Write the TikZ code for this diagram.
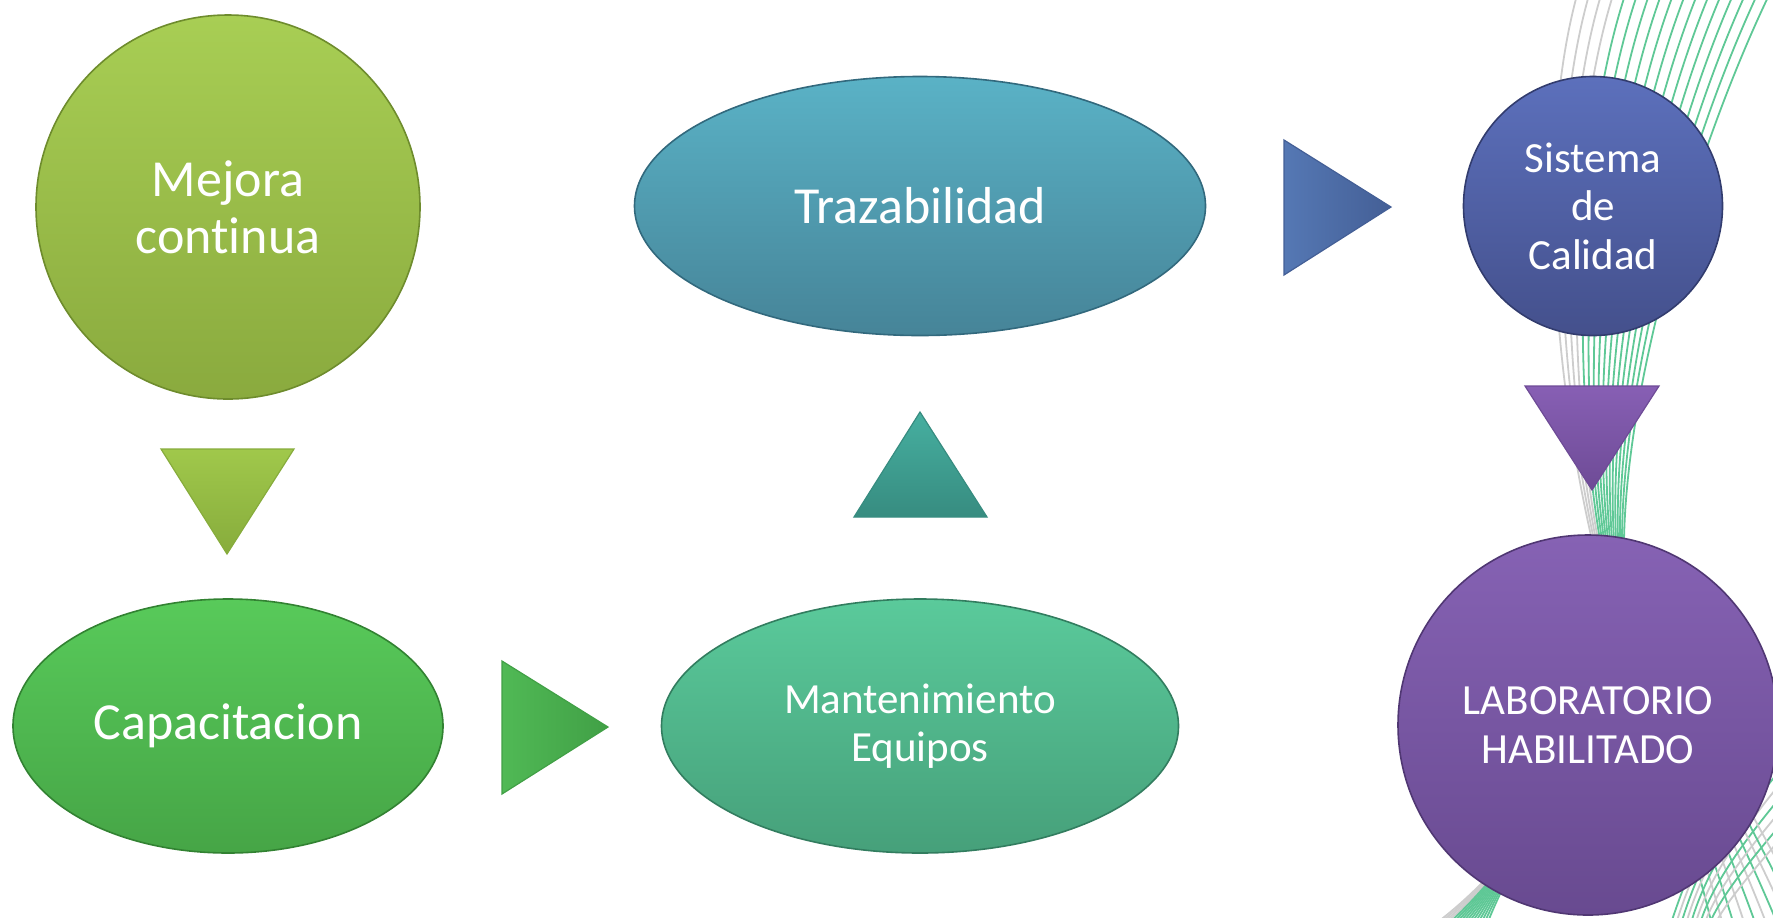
\documentclass[tikz,border=0pt]{standalone}
\usepackage{fontspec}
\setmainfont{Carlito}[Ligatures=NoCommon]
\usetikzlibrary{shapes.geometric}
\definecolor{lgray}{RGB}{205,205,205}
\definecolor{lgreen}{RGB}{95,200,150}
\definecolor{mejT}{RGB}{168,206,84}
\definecolor{mejB}{RGB}{138,170,62}
\definecolor{mejD}{RGB}{110,140,45}
\definecolor{capT}{RGB}{88,202,90}
\definecolor{capB}{RGB}{70,165,70}
\definecolor{capD}{RGB}{50,130,50}
\definecolor{manT}{RGB}{90,202,155}
\definecolor{manB}{RGB}{70,160,122}
\definecolor{manD}{RGB}{50,125,95}
\definecolor{traT}{RGB}{90,178,198}
\definecolor{traB}{RGB}{70,132,152}
\definecolor{traD}{RGB}{50,105,125}
\definecolor{sisT}{RGB}{92,112,188}
\definecolor{sisB}{RGB}{68,80,140}
\definecolor{sisD}{RGB}{50,60,110}
\definecolor{labT}{RGB}{134,98,180}
\definecolor{labB}{RGB}{104,74,144}
\definecolor{labD}{RGB}{80,55,115}
\definecolor{triA}{RGB}{160,200,75}
\definecolor{triAb}{RGB}{135,172,60}
\definecolor{triB}{RGB}{80,185,85}
\definecolor{triBb}{RGB}{65,160,70}
\definecolor{triC}{RGB}{70,175,160}
\definecolor{triCb}{RGB}{55,140,128}
\definecolor{triD}{RGB}{85,120,180}
\definecolor{triDb}{RGB}{68,95,150}
\definecolor{triE}{RGB}{135,95,180}
\definecolor{triEb}{RGB}{110,75,150}
\begin{document}
\begin{tikzpicture}[x=0.5pt,y=-0.5pt,
  bub/.style={inner sep=0pt, align=center, text=white, line width=0.8pt},
  big/.style={font=\fontsize{26}{28.6}\selectfont},
  small/.style={font=\fontsize{21.5}{24.3}\selectfont},
  tri/.style={line width=0.6pt}]
\useasboundingbox (0,0) rectangle (1773,917);
% decorative background lines
\begin{scope}
\clip (0,0) rectangle (1773,917);
\foreach \i in {0,...,16}{
  \ifnum\i<4 \def\lc{lgray}\else\def\lc{lgreen}\fi
  \draw[\lc, line width=0.9pt]
    ({1577+12*\i},-5) .. controls ({1535+10*\i},150) and ({1555+4.5*\i},380) .. ({1592+2*\i},540)
    .. controls ({1615+2*\i},680) and ({1560-4*\i},860) .. ({1380+6*\i},960);
}
\foreach \i in {0,...,9}{
  \ifodd\i \def\lc{lgray}\else\def\lc{lgreen}\fi
  \draw[\lc, line width=0.9pt]
    ({1600+3*\i},540) .. controls ({1640+4*\i},700) and ({1690+8*\i},820) .. ({1720+12*\i},960);
  \draw[\lc, line width=0.9pt]
    (1800,{690+14*\i}) .. controls ({1740},{760+14*\i}) and ({1690},{850+10*\i}) .. ({1660+6*\i},960);
}
\end{scope}
% nodes
\node[bub, big, circle, minimum size=192pt, top color=mejT, bottom color=mejB, draw=mejD] (mejora) at (228,207) {Mejora\\continua};
\node[bub, big, ellipse, minimum width=215pt, minimum height=127pt, top color=capT, bottom color=capB, draw=capD] (capa) at (228,726) {Capacitacion};
\node[bub, small, ellipse, minimum width=258.5pt, minimum height=127pt, top color=manT, bottom color=manB, draw=manD] (mant) at (920,726) {Mantenimiento\\Equipos};
\node[bub, big, ellipse, minimum width=285.5pt, minimum height=129.5pt, top color=traT, bottom color=traB, draw=traD] (traz) at (920,206) {Trazabilidad};
\node[bub, small, circle, minimum size=129.5pt, top color=sisT, bottom color=sisB, draw=sisD] (sis) at (1593,206) {Sistema\\de\\Calidad};
\node[bub, small, circle, minimum size=190pt, top color=labT, bottom color=labB, draw=labD] (lab) at (1588,725) {LABORATORIO\\HABILITADO};
% arrow triangles
\path[tri, top color=triA, bottom color=triAb, draw=triAb] (161,449) -- (294,449) -- (227,554) -- cycle;
\path[tri, left color=triB, right color=triBb, draw=triBb] (502,661) -- (608,727) -- (502,794) -- cycle;
\path[tri, top color=triC, bottom color=triCb, draw=triCb] (854,517) -- (920,412) -- (987,517) -- cycle;
\path[tri, left color=triD, right color=triDb, draw=triDb] (1284,140) -- (1391,207) -- (1284,275) -- cycle;
\path[tri, top color=triE, bottom color=triEb, draw=triEb] (1525,386) -- (1659,386) -- (1592,490) -- cycle;
\end{tikzpicture}
\end{document}
